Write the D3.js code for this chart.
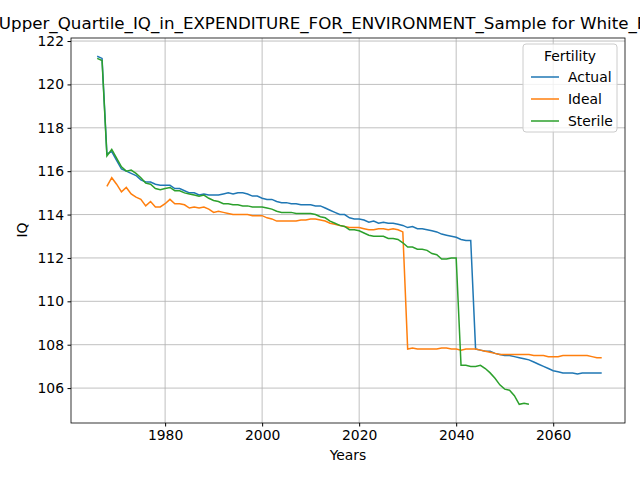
<!DOCTYPE html><html><head><script src="https://cdn.jsdelivr.net/npm/d3@7"></script>
<style>body{margin:0}svg{font-family:"DejaVu Sans",sans-serif}</style></head><body><script>
const startActual=1966, startIdeal=1968, startSterile=1966;
const actual=[121.3,121.2,116.8,116.9,116.5,116.1,116.0,115.9,115.8,115.6,115.5,115.5,115.4,115.35,115.35,115.35,115.2,115.2,115.1,115.0,115.0,114.9,114.95,114.9,114.9,114.9,114.95,115.0,114.95,115.0,115.0,114.95,114.85,114.85,114.75,114.7,114.7,114.6,114.55,114.55,114.5,114.5,114.45,114.45,114.45,114.4,114.4,114.3,114.2,114.1,114.0,114.0,113.85,113.8,113.8,113.75,113.65,113.7,113.6,113.65,113.6,113.6,113.55,113.5,113.4,113.45,113.35,113.35,113.3,113.25,113.2,113.1,113.05,113.0,112.95,112.85,112.8,112.8,107.8,107.75,107.7,107.7,107.6,107.55,107.5,107.5,107.45,107.4,107.35,107.3,107.2,107.1,107.0,106.9,106.8,106.75,106.7,106.7,106.7,106.65,106.7,106.7,106.7,106.7,106.7];
const ideal=[115.3,115.7,115.4,115.05,115.25,114.95,114.8,114.7,114.4,114.6,114.35,114.35,114.5,114.7,114.5,114.5,114.45,114.3,114.35,114.3,114.35,114.25,114.1,114.15,114.1,114.05,114.0,114.0,114.0,114.0,113.95,113.95,113.95,113.85,113.8,113.7,113.7,113.7,113.7,113.7,113.75,113.75,113.8,113.8,113.75,113.7,113.6,113.55,113.5,113.45,113.4,113.4,113.4,113.35,113.3,113.3,113.35,113.35,113.3,113.35,113.3,113.2,107.8,107.85,107.8,107.8,107.8,107.8,107.8,107.85,107.85,107.8,107.8,107.75,107.8,107.8,107.8,107.75,107.7,107.65,107.6,107.55,107.55,107.55,107.55,107.55,107.55,107.55,107.5,107.5,107.5,107.45,107.45,107.45,107.5,107.5,107.5,107.5,107.5,107.5,107.45,107.4,107.4];
const sterile=[121.2,121.1,116.7,117.0,116.6,116.2,116.0,116.05,115.9,115.7,115.45,115.4,115.2,115.15,115.2,115.25,115.1,115.1,115.0,114.95,114.9,114.85,114.9,114.75,114.65,114.6,114.5,114.5,114.45,114.45,114.4,114.4,114.35,114.35,114.35,114.3,114.25,114.15,114.1,114.1,114.1,114.05,114.05,114.05,114.05,114.0,113.9,113.85,113.7,113.6,113.5,113.45,113.3,113.3,113.25,113.15,113.05,113.0,113.0,113.0,112.9,112.9,112.85,112.7,112.5,112.5,112.4,112.4,112.35,112.2,112.15,111.95,111.95,112.0,112.0,107.05,107.05,107.0,107.0,107.05,106.9,106.7,106.45,106.15,105.95,105.9,105.65,105.25,105.3,105.25];
const xTicks=[1980,2000,2020,2040,2060], yTicks=[106,108,110,112,114,116,118,120,122];
const series=[{name:"Actual",start:startActual,v:actual,c:"#1f77b4"},{name:"Ideal",start:startIdeal,v:ideal,c:"#ff7f0e"},{name:"Sterile",start:startSterile,v:sterile,c:"#2ca02c"}];
const L=71,R=625,T=38,B=423;
const svg=d3.select("body").append("svg").attr("width",640).attr("height",480);
const x=d3.scaleLinear().domain([1960.6,2074.8]).range([L,R]);
const y=d3.scaleLinear().domain([104.39,122.14]).range([B,T]);
const g=svg.append("g");
g.selectAll(".gx").data(xTicks).join("line").attr("x1",d=>x(d)).attr("x2",d=>x(d)).attr("y1",T).attr("y2",B).attr("stroke","#b0b0b0").attr("stroke-width",0.8);
g.selectAll(".gy").data(yTicks).join("line").attr("y1",d=>y(d)).attr("y2",d=>y(d)).attr("x1",L).attr("x2",R).attr("stroke","#b0b0b0").attr("stroke-width",0.8);
const line=d3.line().x(d=>x(d[0])).y(d=>y(d[1]));
series.forEach(s=>svg.append("path").attr("d",line(s.v.map((v,i)=>[s.start+i,v]))).attr("fill","none").attr("stroke",s.c).attr("stroke-width",1.5));
svg.append("g").attr("transform",`translate(0,${B})`).call(d3.axisBottom(x).tickValues(xTicks).tickFormat(d3.format("d")).tickSize(3.5).tickPadding(3.5)).call(a=>a.select(".domain").remove()).selectAll("text").attr("font-size","13.9px").attr("font-family","DejaVu Sans");
svg.append("g").attr("transform",`translate(${L},0)`).call(d3.axisLeft(y).tickValues(yTicks).tickSize(3.5).tickPadding(3.5)).call(a=>a.select(".domain").remove()).selectAll("text").attr("font-size","13.9px").attr("font-family","DejaVu Sans");
svg.append("rect").attr("x",L).attr("y",T).attr("width",R-L).attr("height",B-T).attr("fill","none").attr("stroke","black").attr("stroke-width",0.8);
svg.append("text").attr("x",348).attr("y",460).attr("text-anchor","middle").attr("font-size","13.9px").text("Years");
svg.append("text").attr("transform","translate(27,230) rotate(-90)").attr("text-anchor","middle").attr("font-size","13.9px").text("IQ");
svg.append("text").attr("x",348).attr("y",29).attr("text-anchor","middle").attr("font-size","16.7px").text("Upper_Quartile_IQ_in_EXPENDITURE_FOR_ENVIRONMENT_Sample for White_Female");
const lg=svg.append("g");
lg.append("rect").attr("x",523).attr("y",44).attr("width",94).attr("height",88).attr("rx",3).attr("fill","white").attr("fill-opacity",0.8).attr("stroke","#cccccc");
lg.append("text").attr("x",570).attr("y",61).attr("text-anchor","middle").attr("font-size","13.9px").text("Fertility");
series.forEach((s,i)=>{const yy=77+i*22;lg.append("line").attr("x1",531).attr("x2",559).attr("y1",yy).attr("y2",yy).attr("stroke",s.c).attr("stroke-width",1.5);lg.append("text").attr("x",568).attr("y",yy+5).attr("font-size","13.9px").text(s.name);});
</script></body></html>
